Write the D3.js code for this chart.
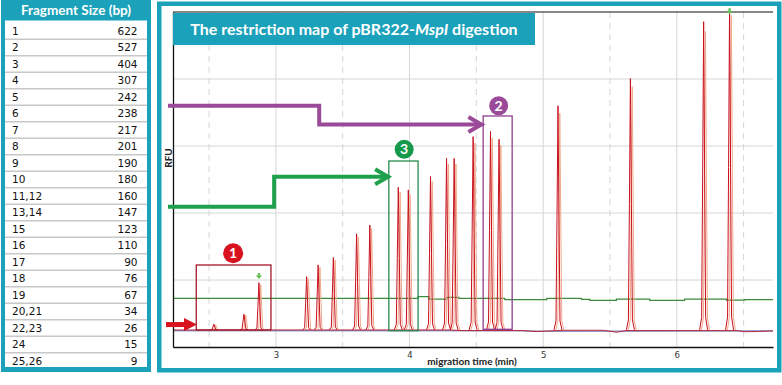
<!DOCTYPE html>
<html>
<head>
<meta charset="utf-8">
<script src="https://cdn.jsdelivr.net/npm/d3@7"></script>
<style>
  body { margin: 0; background: #fff; }
  svg text { font-family: Lato, 'Open Sans', sans-serif; }
</style>
</head>
<body>
<div class="display"></div>
<script>
const WIDTH = 782;
const HEIGHT = 385;
const TEAL = '#1ba1ba';

// fragment table
const FRAGMENT_IDS = ['1', '2', '3', '4', '5', '6', '7', '8', '9', '10', '11,12', '13,14',
  '15', '16', '17', '18', '19', '20,21', '22,23', '24', '25,26'];
const FRAGMENT_SIZES = [622, 527, 404, 307, 242, 238, 217, 201, 190, 180, 160, 147,
  123, 110, 90, 76, 67, 34, 26, 15, 9];

// electropherogram peaks (migration time in min, RFU)
const PEAK_TIMES = [2.536, 2.761, 2.873, 3.230, 3.316, 3.430, 3.604, 3.703, 3.916, 3.991,
  4.157, 4.277, 4.334, 4.476, 4.606, 4.670, 5.111, 5.653, 6.201, 6.395];
const PEAK_RFU = [340, 490, 960, 1050, 1225, 1335, 1690, 1820, 2385, 2345,
  2545, 2815, 2815, 3140, 3215, 3100, 3600, 4005, 4855, 5100];

// baseline of the red trace and of the blue trace
const BASELINE_TIMES = [2.23, 4.30, 4.40, 4.85, 4.95, 5.05, 5.15, 5.45, 5.55, 5.62, 6.45, 6.50, 6.62, 6.72];
const BASELINE_RFU = [255, 255, 245, 245, 230, 240, 250, 250, 220, 245, 245, 228, 232, 240];
const BLUE_TIMES = [2.23, 4.80, 5.00, 6.72];
const BLUE_RFU = [242, 242, 236, 240];

// green threshold line (step)
const THRESHOLD_TIMES = [2.23, 4.062, 4.144, 4.279, 4.369, 4.713, 5.027, 5.287, 5.349, 5.548,
  5.798, 6.059, 6.371, 6.508, 6.72];
const THRESHOLD_RFU = [727, 751, 716, 742, 727, 706, 727, 712, 697, 716,
  697, 716, 700, 706, 706];

const X_TICKS = [3, 4, 5, 6];
const X_MINOR = [2.5, 3.5, 4.5, 5.5, 6.5];
const Y_GRID = [1000, 2000, 3000, 4000];

const PLOT = { left: 173, right: 773, top: 12, bottom: 347 };
// peak outline in pixels: [dx, fraction of peak height]
const PEAK_SHAPE = [[-4, 0], [-2, 0.04], [-1, 0.5], [0, 1], [1, 0.5], [2, 0.04], [4, 0]];

let svg, x, y;

function setupSvg() {
  svg = d3.select('.display')
    .append('svg')
    .attr('width', WIDTH)
    .attr('height', HEIGHT);

  svg.append('rect')
    .attr('width', WIDTH)
    .attr('height', HEIGHT)
    .attr('fill', '#fff');

  x = d3.scaleLinear().domain([2.23, 6.72]).range([PLOT.left, PLOT.right]);
  y = d3.scaleLinear().domain([0, 5000]).range([PLOT.bottom, PLOT.top]);
}

function drawTable() {
  const g = svg.append('g');

  g.append('rect')
    .attr('x', 1).attr('y', 0)
    .attr('width', 150).attr('height', 372)
    .attr('fill', TEAL);

  g.append('rect')
    .attr('x', 5).attr('y', 20.5)
    .attr('width', 142).attr('height', 346.5)
    .attr('fill', '#fff');

  g.append('text')
    .attr('x', 76)
    .attr('y', 15)
    .attr('text-anchor', 'middle')
    .attr('fill', '#fff')
    .style('font-size', '13.5px')
    .style('font-weight', 'bold')
    .text('Fragment Size (bp)');

  const rows = d3.scaleBand()
    .domain(FRAGMENT_IDS)
    .range([22.75, 369.25]);

  g.selectAll('.sep')
    .data(FRAGMENT_IDS.slice(1))
    .enter()
    .append('line')
    .attr('class', 'sep')
    .attr('x1', 5).attr('x2', 147)
    .attr('y1', d => rows(d))
    .attr('y2', d => rows(d))
    .attr('stroke', '#c8c8c8')
    .attr('stroke-width', 1.5);

  FRAGMENT_IDS.forEach((id, i) => {
    const cy = rows(id) + rows.bandwidth() / 2;
    g.append('text')
      .attr('x', 12)
      .attr('y', cy)
      .attr('dy', '0.36em')
      .attr('fill', '#111')
      .style('font-family', 'DejaVu Sans')
      .style('font-size', '10.5px')
      .text(id);
    g.append('text')
      .attr('x', 137.5)
      .attr('y', cy)
      .attr('dy', '0.36em')
      .attr('text-anchor', 'end')
      .attr('fill', '#111')
      .style('font-family', 'DejaVu Sans')
      .style('font-size', '10.5px')
      .text(FRAGMENT_SIZES[i]);
  });
}

function drawPanel() {
  svg.append('rect')
    .attr('x', 159.25).attr('y', 3.75)
    .attr('width', 620).attr('height', 366.5)
    .attr('fill', '#fff')
    .attr('stroke', TEAL)
    .attr('stroke-width', 4.5);
}

function drawGrid() {
  const grid = svg.append('g');

  grid.selectAll('.hgrid')
    .data(Y_GRID)
    .enter()
    .append('line')
    .attr('x1', PLOT.left).attr('x2', PLOT.right)
    .attr('y1', d => y(d)).attr('y2', d => y(d))
    .attr('stroke', '#d6d6d6');

  grid.selectAll('.vgrid')
    .data(X_TICKS)
    .enter()
    .append('line')
    .attr('x1', d => x(d)).attr('x2', d => x(d))
    .attr('y1', PLOT.top).attr('y2', PLOT.bottom)
    .attr('stroke', '#d6d6d6');

  grid.selectAll('.vminor')
    .data(X_MINOR)
    .enter()
    .append('line')
    .attr('x1', d => x(d)).attr('x2', d => x(d))
    .attr('y1', PLOT.top).attr('y2', PLOT.bottom)
    .attr('stroke', '#d6d6d6')
    .attr('stroke-dasharray', '6,5');
}

function drawTraces() {
  svg.append('clipPath')
    .attr('id', 'plot-clip')
    .append('rect')
    .attr('x', PLOT.left).attr('y', PLOT.top)
    .attr('width', PLOT.right - PLOT.left)
    .attr('height', PLOT.bottom - PLOT.top);

  const traces = svg.append('g').attr('clip-path', 'url(#plot-clip)');

  const baseLine = d3.line().x(d => x(d[0])).y(d => y(d[1]));

  traces.append('path')
    .datum(THRESHOLD_TIMES.map((t, i) => [t, THRESHOLD_RFU[i]]))
    .attr('d', baseLine.curve(d3.curveStepAfter))
    .attr('fill', 'none')
    .attr('stroke', '#3c8c3c')
    .attr('stroke-width', 1.2);

  baseLine.curve(d3.curveLinear);

  traces.append('path')
    .datum(BLUE_TIMES.map((t, i) => [t, BLUE_RFU[i]]))
    .attr('d', baseLine)
    .attr('fill', 'none')
    .attr('stroke', '#5a5aa8')
    .attr('stroke-width', 1);

  traces.append('path')
    .datum(BASELINE_TIMES.map((t, i) => [t, BASELINE_RFU[i]]))
    .attr('d', baseLine)
    .attr('fill', 'none')
    .attr('stroke', '#b81c2c')
    .attr('stroke-width', 0.9);

  const base = 255;
  const peakPath = (t, h) => d3.line()(PEAK_SHAPE.map(p => [x(t) + p[0], y(base + p[1] * (h - base))]));

  traces.selectAll('.peak-light')
    .data(PEAK_TIMES)
    .enter()
    .append('path')
    .attr('d', (t, i) => peakPath(t, PEAK_RFU[i] * 0.97))
    .attr('transform', 'translate(1.8,0)')
    .attr('fill', 'none')
    .attr('stroke', '#f2a98a')
    .attr('stroke-width', 1);

  traces.selectAll('.peak')
    .data(PEAK_TIMES)
    .enter()
    .append('path')
    .attr('d', (t, i) => peakPath(t, PEAK_RFU[i]))
    .attr('fill', 'none')
    .attr('stroke', '#c8101e')
    .attr('stroke-width', 1);
}

function drawAxes() {
  const xAxis = svg.append('g')
    .attr('transform', `translate(0, ${PLOT.bottom})`)
    .call(d3.axisBottom(x).tickValues(X_TICKS).tickSize(0).tickPadding(5).tickFormat(d3.format('d')));
  xAxis.select('.domain').attr('stroke', '#111').attr('stroke-width', 1.3);
  xAxis.selectAll('text')
    .attr('fill', '#333')
    .style('font-family', 'DejaVu Sans')
    .style('font-size', '8.5px');

  svg.append('g')
    .attr('transform', `translate(${PLOT.left}, 0)`)
    .call(d3.axisLeft(y).tickValues([]).tickSizeOuter(0))
    .select('.domain').attr('stroke', '#111').attr('stroke-width', 1.3);

  svg.append('line')
    .attr('x1', PLOT.left).attr('x2', PLOT.right)
    .attr('y1', PLOT.top).attr('y2', PLOT.top)
    .attr('stroke', '#111')
    .attr('stroke-width', 1.2);

  svg.append('text')
    .attr('x', 472)
    .attr('y', 365)
    .attr('text-anchor', 'middle')
    .attr('fill', '#222')
    .style('font-size', '10px')
    .style('font-weight', 'bold')
    .text('migration time (min)');

  svg.append('text')
    .attr('transform', 'translate(172, 158) rotate(-90)')
    .attr('text-anchor', 'middle')
    .attr('fill', '#222')
    .style('font-size', '10px')
    .style('font-weight', 'bold')
    .text('RFU');
}

function drawTitle() {
  svg.append('rect')
    .attr('x', 173).attr('y', 13)
    .attr('width', 362).attr('height', 32)
    .attr('fill', TEAL);

  const title = svg.append('text')
    .attr('x', 354)
    .attr('y', 34.5)
    .attr('text-anchor', 'middle')
    .attr('fill', '#fff')
    .style('font-size', '16px')
    .style('font-weight', 'bold');
  title.append('tspan').text('The restriction map of pBR322-');
  title.append('tspan').style('font-style', 'italic').text('MspI');
  title.append('tspan').text(' digestion');
}

function chevron(g, tipX, tipY, color) {
  g.append('path')
    .attr('d', `M${tipX - 13},${tipY - 7.5} L${tipX},${tipY} L${tipX - 13},${tipY + 7.5}`)
    .attr('fill', 'none')
    .attr('stroke', color)
    .attr('stroke-width', 4)
    .attr('stroke-linejoin', 'miter');
}

function badge(g, cx, cy, r, color, label) {
  g.append('circle')
    .attr('cx', cx).attr('cy', cy).attr('r', r)
    .attr('fill', color);
  g.append('text')
    .attr('x', cx).attr('y', cy)
    .attr('dy', '0.36em')
    .attr('text-anchor', 'middle')
    .attr('fill', '#fff')
    .style('font-size', '14px')
    .style('font-weight', 'bold')
    .text(label);
}

function drawAnnotations() {
  const g = svg.append('g');
  const PURPLE = '#9a4a98';
  const GREEN = '#1ea04c';
  const RED = '#d8121f';

  // purple step arrow to box 2
  g.append('path')
    .attr('d', `M168,${y(3600)} H${x(3.324)} V${y(3320)} H${x(4.535)}`)
    .attr('fill', 'none')
    .attr('stroke', PURPLE)
    .attr('stroke-width', 4);
  chevron(g, x(4.538), y(3320), PURPLE);

  // green step arrow to box 3
  g.append('path')
    .attr('d', `M168,${y(2095)} H${x(2.987)} V${y(2540)} H${x(3.835)}`)
    .attr('fill', 'none')
    .attr('stroke', GREEN)
    .attr('stroke-width', 4);
  chevron(g, x(3.84), y(2540), GREEN);

  // red arrow to box 1
  const ry = y(335);
  g.append('rect')
    .attr('x', 166).attr('y', ry - 2.5)
    .attr('width', 20).attr('height', 5)
    .attr('fill', RED);
  g.append('path')
    .attr('d', `M184,${ry - 6.5} L197,${ry} L184,${ry + 6.5} Z`)
    .attr('fill', RED);

  // boxes
  const box = (t0, t1, v0, v1, color) => g.append('rect')
    .attr('x', x(t0)).attr('y', y(v1))
    .attr('width', x(t1) - x(t0)).attr('height', y(v0) - y(v1))
    .attr('fill', 'none')
    .attr('stroke', color)
    .attr('stroke-width', 1.3);
  box(2.404, 2.963, 254, 1224, '#a3182a');
  box(3.845, 4.064, 243, 2776, '#2a8a50');
  box(4.551, 4.768, 264, 3448, '#8e3e8e');

  badge(g, x(2.68), y(1400), 10, RED, '1');
  badge(g, x(3.96), y(2950), 9.5, '#16994a', '3');
  badge(g, x(4.667), y(3600), 9.5, PURPLE, '2');

  // small green markers above peaks
  const marker = (t, v) => g.append('path')
    .attr('d', `M${x(t) - 1.2},${y(v) - 5} h2.4 v2.5 h2 l-3.2,3.5 l-3.2,-3.5 h2 Z`)
    .attr('fill', '#6dbf5a');
  marker(2.873, 1030);
  marker(6.395, 4980);
}

window.addEventListener('load', () => {
  setupSvg();
  drawTable();
  drawPanel();
  drawGrid();
  drawTraces();
  drawAxes();
  drawTitle();
  drawAnnotations();
}, false);
</script>
</body>
</html>
